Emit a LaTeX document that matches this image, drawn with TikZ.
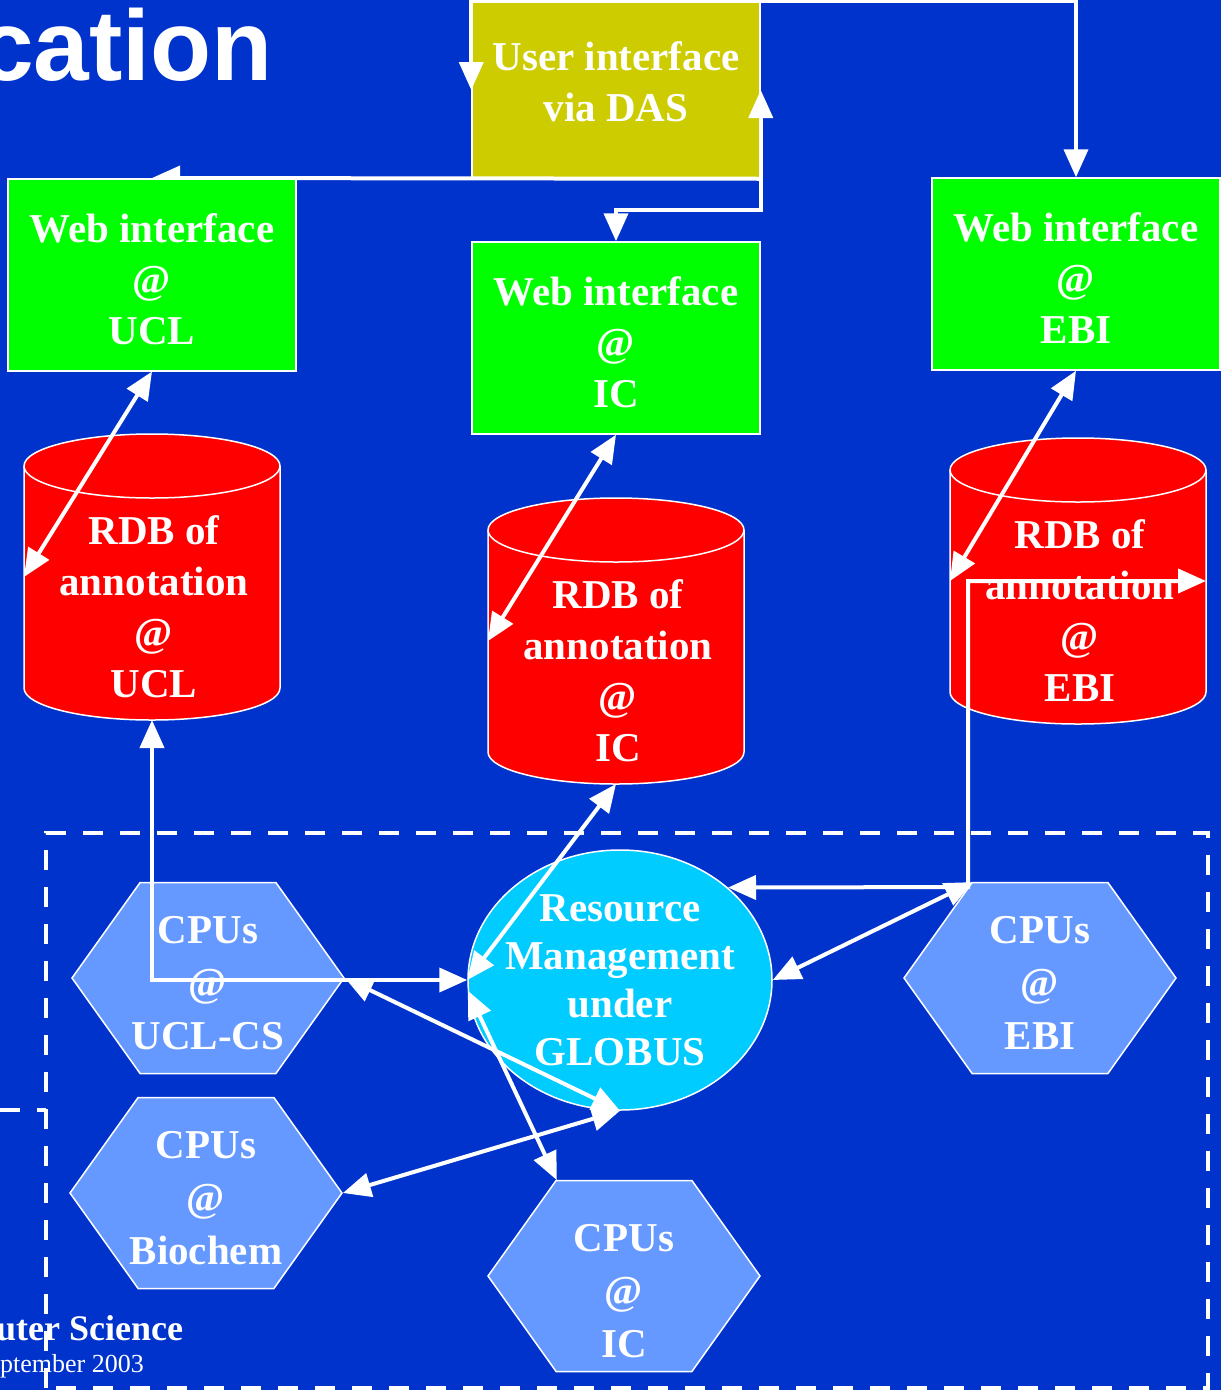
\documentclass[tikz,border=0pt]{standalone}
\usepackage{fontspec}
\setmainfont{Liberation Serif}
\newfontfamily\headfont{Liberation Sans}
\usetikzlibrary{arrows.meta,shapes.geometric,shapes.symbols}
\definecolor{slide}{HTML}{0033CC}
\definecolor{das}{HTML}{CCCC00}
\definecolor{web}{HTML}{00FF00}
\definecolor{rdb}{HTML}{FF0000}
\definecolor{globus}{HTML}{00CCFF}
\definecolor{cpu}{HTML}{6699FF}
\tikzset{
  every node/.style = {text=white, align=center, inner sep=0pt,
    font=\bfseries\fontsize{41}{51}\selectfont},
  box/.style = {draw=white, line width=1.5pt, minimum width=288pt, minimum height=192pt},
  webbox/.style = {box, fill=web, text height=139pt},
  cpus/.style = {signal, signal to=east and west, signal pointer angle=109,
    inner xsep=-12pt, draw=white, line width=1.5pt, fill=cpu,
    minimum width=272pt, minimum height=191pt, text height=144pt,
    font=\bfseries\fontsize{41}{53}\selectfont},
  link/.style = {draw=white, line width=4pt},
  frame/.style = {draw=white, line width=4pt, dash pattern=on 20pt off 17pt},
  rdb/.pic = {
    \filldraw[fill=rdb, draw=white, line width=1.5pt]
      (-128,-111) -- (-128,111) arc[start angle=180, end angle=0, x radius=128, y radius=32]
      -- (128,-111) arc[start angle=0, end angle=-180, x radius=128, y radius=32] -- cycle;
    \draw[white, line width=1.5pt] (-128,-111) arc[start angle=180, end angle=0, x radius=128, y radius=32];
    \coordinate (-west) at (-128,0);
    \coordinate (-east) at (128,0);
    \coordinate (-south) at (0,143);
  }
}

\begin{document}
\begin{tikzpicture}[x=1pt,y=-1pt,>={Triangle[length=28pt,width=24pt]}]
  \fill[slide] (0,0) rectangle (1221,1390);
  \useasboundingbox (0,0) rectangle (1221,1390);

  % slide title and footer
  \node[anchor=base east, font=\headfont\bfseries\fontsize{100}{100}\selectfont] (title) at (273,80) {cation};
  \node[anchor=base west, font=\bfseries\fontsize{36}{40}\selectfont] (dept) at (-4,1340) {uter Science};
  \node[anchor=base west, font=\fontsize{26}{30}\selectfont] (date) at (0,1372) {ptember 2003};

  % grid
  \draw[frame] (46,1388) -- (46,833) -- (1208,833) -- (1208,1388) -- cycle;
  \draw[frame] (0,1110) -- (46,1110);

  \node[box, fill=das, minimum height=176pt, text depth=16pt] (ui) at (616,90) {User interface\\via DAS};
  \coordinate (uclwebtop) at (152,178);
  \coordinate (icjoint) at (762,210);
  \draw[link,->] (ui.south east) -- (uclwebtop);

  \node[webbox, anchor=north] (uclweb) at (uclwebtop) {Web interface\\@\\UCL};
  \node[webbox] (icweb) at (616,338) {Web interface\\@\\IC};
  \node[webbox] (ebiweb) at (1076,274) {Web interface\\@\\EBI};

  % databases
  \pic (ucldb) at (152,577) {rdb};
  \pic (icdb) at (616,641) {rdb};
  \pic (ebidb) at (1078,581) {rdb};
  \node (ucldbtext) at (154,607) {RDB of\\annotation\\@\\UCL};
  \node (icdbtext) at (618,671) {RDB of\\annotation\\@\\IC};
  \node (ebidbtext) at (1080,611) {RDB of\\annotation\\@\\EBI};

  \node[ellipse, draw=white, line width=1.5pt, fill=globus, inner sep=-12pt,
    minimum width=304pt, minimum height=260pt, font=\bfseries\fontsize{41}{48}\selectfont]
    (rm) at (620,980) {Resource\\Management\\under\\GLOBUS};

  \node[cpus] (cpucs) at (208,978) {CPUs\\@\\UCL-CS};
  \node[cpus] (cpubio) at (206,1193) {CPUs\\@\\Biochem};
  \node[cpus, text height=164pt] (cpuic) at (624,1276) {CPUs\\@\\IC};
  \node[cpus] (cpuebi) at (1040,978) {CPUs\\@\\EBI};

  \coordinate (ebijoint) at (968,887);

  \draw[link,<->] (ui.west) -- (ui.north west) -- (ui.north west -| ebiweb.north) -- (ebiweb.north);
  \draw[link,<->] (ui.east) -- (ui.east |- icjoint) -| (icweb.north);
  \draw[link,<->] (uclweb.south) -- (ucldb-west);
  \draw[link,<->] (icweb.south) -- (icdb-west);
  \draw[link,<->] (ebiweb.south) -- (ebidb-west);
  \draw[link,<->] (ebidb-east) -| (ebijoint) -- (rm.north east);
  \draw[link,<->] (rm.east) -- (cpuebi.125);
  \draw[link,<->] (ucldb-south) |- (rm.west);
  \draw[link,<->] (icdb-south) -- (rm.west);
  \draw[link,<->] (cpucs.east) -- (rm.south);
  \draw[link,<->] (cpubio.east) -- (rm.south);
  \draw[link,<->] (rm.184) -- (cpuic.125);
\end{tikzpicture}
\end{document}
